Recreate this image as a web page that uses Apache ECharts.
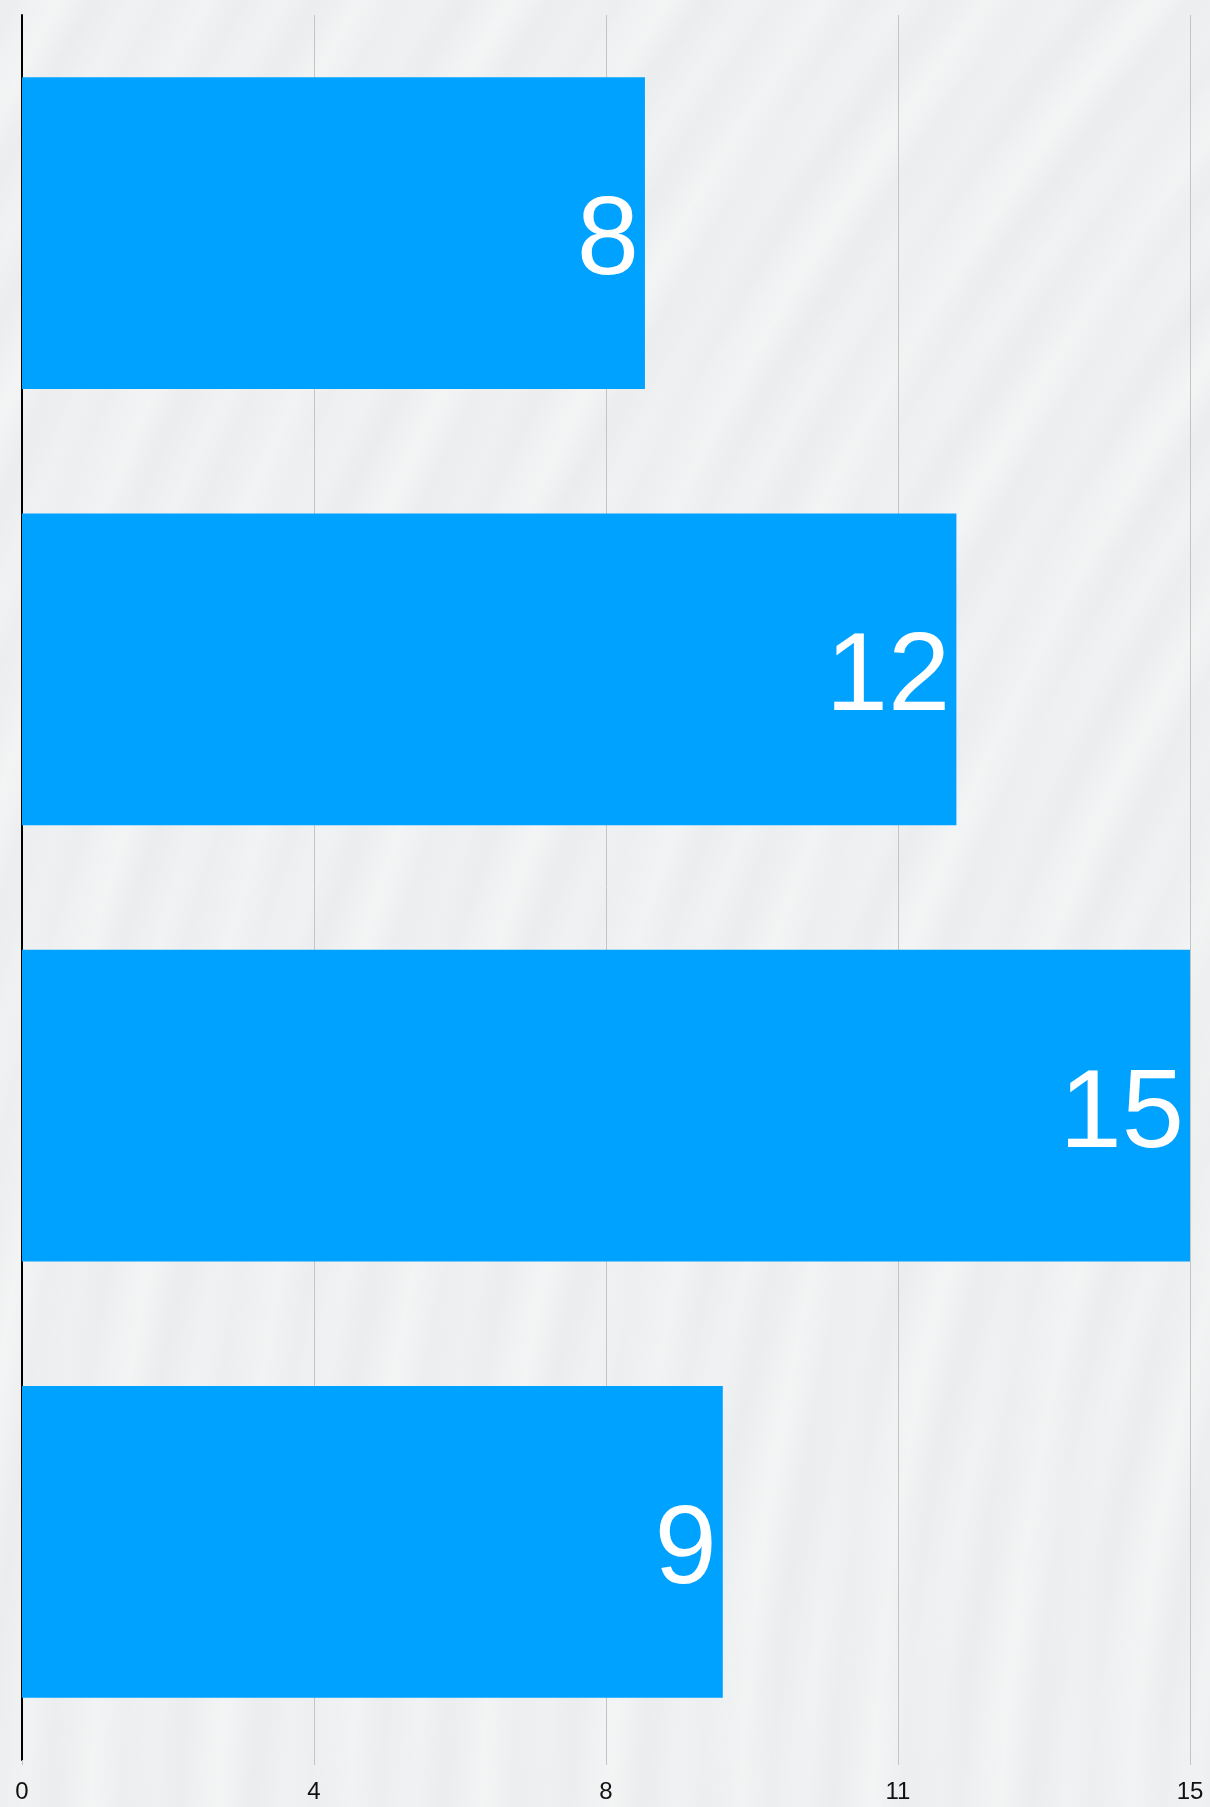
<!DOCTYPE html>
<html>
<head>
<meta charset="utf-8">
<script src="https://cdn.jsdelivr.net/npm/echarts@6/dist/echarts.min.js"></script>
<style>
  html, body {
    margin: 0;
    padding: 0;
  }
  #chart {
    width: 1210px;
    height: 1807px;
    background-color: #eeeff0;
    background-image:
      repeating-radial-gradient(circle at 3500px 1900px, rgba(255,255,255,0) 0px, rgba(255,255,255,0.35) 30px, rgba(255,255,255,0) 70px, rgba(255,255,255,0.2) 95px, rgba(255,255,255,0) 130px),
      repeating-radial-gradient(circle at 3300px 2300px, rgba(228,230,231,0) 0px, rgba(228,230,231,0.3) 45px, rgba(228,230,231,0) 95px);
  }
</style>
</head>
<body>
<div id="chart"></div>
<script>
// data, top to bottom
const categories = ['A', 'B', 'C', 'D'];
const values = [8, 12, 15, 9];
const axisMax = 15;
const tickStep = 3.75;

const chart = echarts.init(document.getElementById('chart'));

chart.setOption({
  backgroundColor: 'transparent',
  animation: false,
  grid: {
    left: 22,
    right: 20,
    top: 15,
    bottom: 47,
    containLabel: false,
  },
  xAxis: {
    type: 'value',
    min: 0,
    max: axisMax,
    interval: tickStep,
    axisLine: { show: false },
    axisTick: {
      show: true,
      length: 5,
      lineStyle: { color: '#c4c4c4', width: 1 },
    },
    splitLine: {
      show: true,
      lineStyle: { color: '#c4c4c4', width: 1 },
    },
    axisLabel: {
      color: '#111',
      fontFamily: 'Liberation Sans',
      fontSize: 24,
      margin: 20,
      formatter: (v) => String(Math.round(v)),
    },
  },
  yAxis: {
    type: 'category',
    data: categories,
    inverse: true,
    axisLine: {
      show: true,
      lineStyle: { color: '#000', width: 2 },
    },
    axisTick: { show: false },
    axisLabel: { show: false },
    splitLine: { show: false },
  },
  series: [
    {
      type: 'bar',
      data: values,
      barCategoryGap: '28.5%',
      itemStyle: { color: '#00a2ff' },
      label: {
        show: true,
        position: 'insideRight',
        distance: 6,
        offset: [0, 10],
        color: '#fff',
        fontFamily: 'Liberation Sans',
        fontSize: 112,
      },
    },
  ],
});
</script>
</body>
</html>
